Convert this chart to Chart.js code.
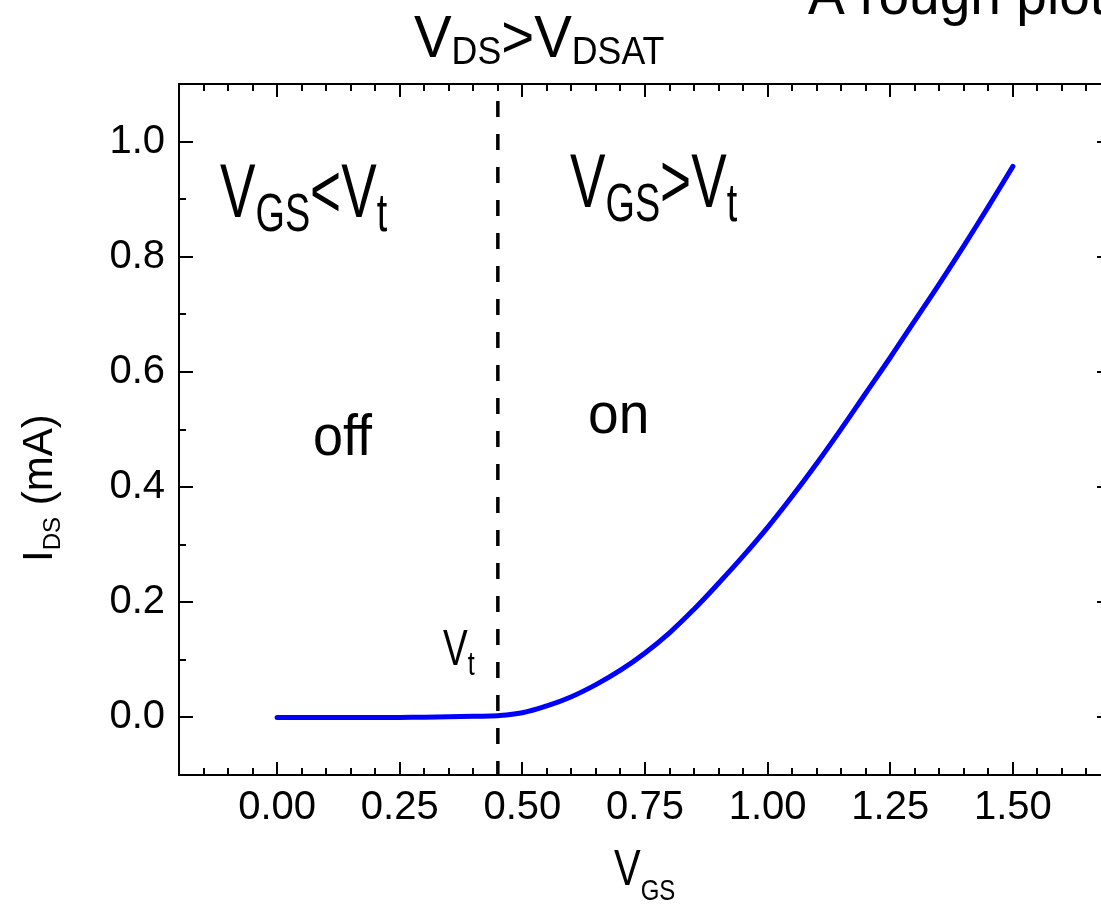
<!DOCTYPE html>
<html>
<head>
<meta charset="utf-8">
<script src="https://cdn.jsdelivr.net/npm/chart.js@4.4.1/dist/chart.umd.min.js"></script>
<style>
  html, body { margin: 0; padding: 0; background: #fff; overflow: hidden; }
  #marco { width: 1120px; height: 907px; }
</style>
</head>
<body>
<div id="marco"><canvas id="curvaChart" width="1120" height="907"></canvas></div>
<script>
// Curva IDS vs VGS
const vgs = [0.00, 0.05, 0.10, 0.15, 0.20, 0.25, 0.30, 0.35, 0.40, 0.45, 0.50, 0.55, 0.60, 0.65, 0.70, 0.75,
             0.80, 0.85, 0.90, 0.95, 1.00, 1.05, 1.10, 1.15, 1.20, 1.25, 1.30, 1.35, 1.40, 1.45, 1.50];
const ids = [0.000, 0.000, 0.000, 0.000, 0.000, 0.000, 0.0005, 0.001, 0.002, 0.003, 0.008, 0.020, 0.036, 0.057, 0.082, 0.112,
             0.147, 0.188, 0.233, 0.280, 0.330, 0.384, 0.441, 0.501, 0.563, 0.625, 0.689, 0.753, 0.819, 0.887, 0.957];

// Tensión umbral (línea discontinua)
const vt = 0.45;
const lineaVtY = [1.1, -0.1];

// Marcas de los ejes
const xMayores = [0.00, 0.25, 0.50, 0.75, 1.00, 1.25, 1.50];
const yMayores = [0.0, 0.2, 0.4, 0.6, 0.8, 1.0];
const xMin = -0.2, xMax = 1.7, yMin = -0.1, yMax = 1.1;
const pasoMenorX = 0.05, pasoMenorY = 0.1;

// marcas menores (sin etiqueta)
function marcasMenores(min, max, paso) {
  const r = [];
  for (let v = min + paso; v < max - paso / 2; v += paso) r.push(Math.round(v * 1000) / 1000);
  return r;
}
const xMenores = marcasMenores(xMin, xMax, pasoMenorX);
const yMenores = marcasMenores(yMin, yMax, pasoMenorY);

const FUENTE = '"Liberation Sans", Arial, sans-serif';

// Escala con marcas hacia dentro
function eje(pos, min, max, marcas, largo, extra) {
  return Object.assign({
    type: 'linear', position: pos, min: min, max: max,
    afterBuildTicks: function(s) { s.ticks = marcas.map(v => ({ value: v })); },
    grid: { drawOnChartArea: false, drawTicks: true, tickLength: -largo, tickColor: '#000', tickWidth: 2, lineWidth: 2, color: '#000' },
    border: { display: true, color: '#000', width: 2 },
    ticks: { display: false }
  }, extra);
}

// Textos con subíndices (estilo Origin)
function texto(ctx, partes, x, y, o) {
  ctx.save();
  ctx.translate(x, y);
  if (o.rot) ctx.rotate(o.rot);
  ctx.scale(o.sx || 1, 1);
  ctx.fillStyle = '#000';
  ctx.textBaseline = 'alphabetic';
  ctx.textAlign = 'left';
  let cx = 0;
  partes.forEach(function(p) {
    const sub = p[1];
    ctx.font = (sub ? o.sub : o.main) + 'px ' + FUENTE;
    ctx.fillText(p[0], cx, sub ? o.dy : 0);
    cx += ctx.measureText(p[0]).width;
  });
  ctx.restore();
}

const anotaciones = {
  id: 'anotaciones',
  afterDraw: function(chart) {
    const ctx = chart.ctx;
    texto(ctx, [['A rough plot', false]], 808, 14, { main: 58, sx: 0.95 });
    texto(ctx, [['V', false], ['DS', true], ['>', false], ['V', false], ['DSAT', true]], 414, 57, { main: 60, sub: 38, dy: 7, sx: 0.94 });
    texto(ctx, [['V', false], ['GS', true], ['<', false], ['V', false], ['t', true]], 220, 217, { main: 76, sub: 54, dy: 14, sx: 0.7 });
    texto(ctx, [['V', false], ['GS', true], ['>', false], ['V', false], ['t', true]], 570, 207, { main: 76, sub: 54, dy: 14, sx: 0.7 });
    texto(ctx, [['off', false]], 313, 455, { main: 58, sx: 0.93 });
    texto(ctx, [['on', false]], 588, 433, { main: 58, sx: 0.95 });
    texto(ctx, [['V', false], ['t', true]], 443, 665, { main: 50, sub: 34, dy: 10, sx: 0.74 });
    texto(ctx, [['V', false], ['GS', true]], 614, 885, { main: 50, sub: 30, dy: 15, sx: 0.8 });
    texto(ctx, [['I', false], ['DS', true], [' (mA)', false]], 52, 562, { main: 42, sub: 24, dy: 8, sx: 1, rot: -Math.PI / 2 });
  }
};

document.addEventListener('DOMContentLoaded', function() {
  const ctx = document.getElementById('curvaChart').getContext('2d');
  new Chart(ctx, {
    type: 'line',
    data: {
      datasets: [
        {
          label: 'IDS',
          data: vgs.map((v, i) => ({ x: v, y: ids[i] })),
          borderColor: '#0000ff',
          borderWidth: 5,
          pointRadius: 0,
          tension: 0.4,
          borderCapStyle: 'round',
          borderJoinStyle: 'round',
          xAxisID: 'x', yAxisID: 'y'
        },
        {
          label: 'Vt',
          data: lineaVtY.map(y => ({ x: vt, y: y })),
          borderColor: '#000',
          borderWidth: 3.5,
          borderDash: [16, 17],
          borderDashOffset: 16,
          pointRadius: 0,
          xAxisID: 'x', yAxisID: 'y'
        }
      ]
    },
    options: {
      responsive: false,
      animation: false,
      devicePixelRatio: 1,
      layout: { padding: { left: 0, right: 9, top: 0, bottom: 0 } },
      plugins: { legend: { display: false }, tooltip: { enabled: false } },
      scales: {
        x: eje('bottom', xMin, xMax, xMayores, 13, {
          weight: 1,
          afterFit: function(s) { s.height = 132; },
          ticks: { display: true, color: '#000', padding: 22, font: { family: FUENTE, size: 40 }, callback: v => Number(v).toFixed(2) }
        }),
        xm: eje('bottom', xMin, xMax, xMenores, 7, { weight: 0, afterFit: function(s) { s.height = 0; } }),
        xt: eje('top', xMin, xMax, xMayores, 13, { weight: 1, afterFit: function(s) { s.height = 84; } }),
        xtm: eje('top', xMin, xMax, xMenores, 7, { weight: 0, afterFit: function(s) { s.height = 0; } }),
        y: eje('left', yMin, yMax, yMayores, 14, {
          weight: 1,
          afterFit: function(s) { s.width = 179; },
          ticks: { display: true, color: '#000', padding: 28, font: { family: FUENTE, size: 40 }, callback: v => Number(v).toFixed(1) }
        }),
        ym: eje('left', yMin, yMax, yMenores, 7, { weight: 0, afterFit: function(s) { s.width = 0; } }),
        yr: eje('right', yMin, yMax, yMayores, 14, { weight: 1, afterFit: function(s) { s.width = 0; } }),
        yrm: eje('right', yMin, yMax, yMenores, 7, { weight: 0, afterFit: function(s) { s.width = 0; } })
      }
    },
    plugins: [anotaciones]
  });
});
</script>
</body>
</html>
